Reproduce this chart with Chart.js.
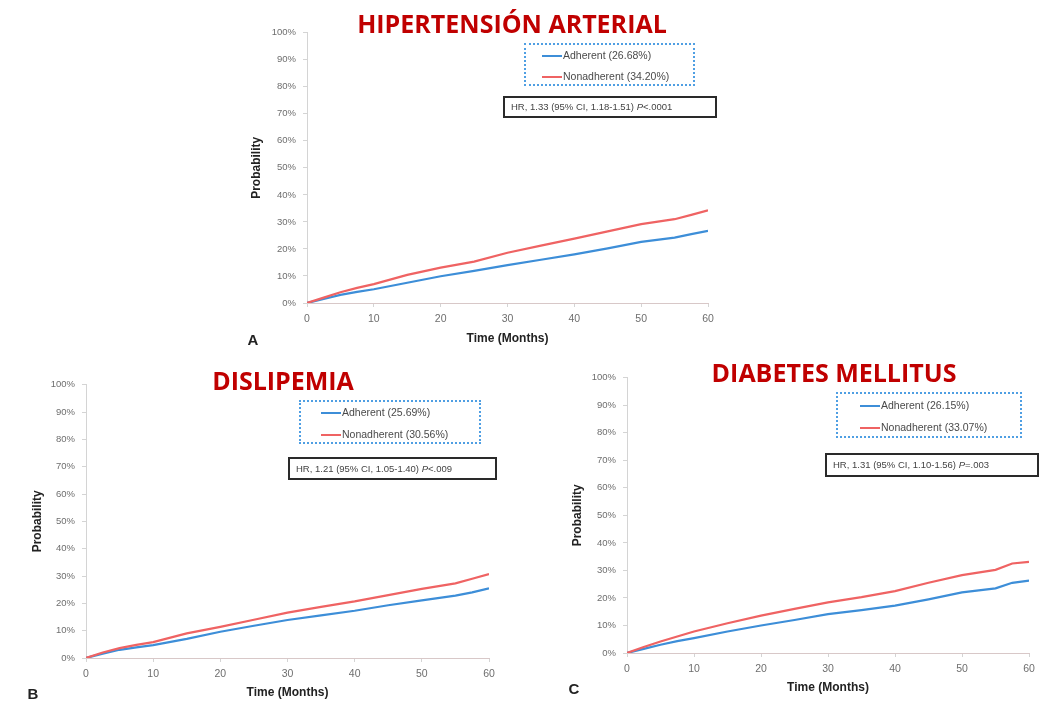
<!DOCTYPE html>
<html>
<head>
<meta charset="utf-8">
<script src="https://cdn.jsdelivr.net/npm/chart.js@4/dist/chart.umd.min.js"></script>
<style>
  body { margin: 0; background: #fff; width: 1043px; height: 701px; overflow: hidden; position: relative; font-family: "Liberation Sans", Arial, sans-serif; }
  canvas { position: absolute; }
  .title { position: absolute; color: #c00000; font-family: "Open Sans", sans-serif; font-weight: bold; font-size: 25px; white-space: nowrap; transform: translate(-50%, -50%); }
  .legend { position: absolute; border: 2px dotted #4f9fe3; box-sizing: border-box; font-size: 10.5px; color: #4a4a4a; }
  .legend div { position: absolute; left: 16px; white-space: nowrap; line-height: 12px; }
  .legend span { display: inline-block; width: 20px; height: 2px; vertical-align: middle; margin-right: 1px; }
  .hr { position: absolute; border: 2px solid #2a2a2a; box-sizing: border-box; font-size: 9.5px; color: #444; padding-left: 6px; white-space: nowrap; }
  .letter { position: absolute; font-weight: bold; font-size: 15px; color: #222; transform: translate(-50%, -50%); }
</style>
</head>
<body>
<canvas id="chartA" width="480" height="335" style="left:240px;top:20px;width:480px;height:335px"></canvas>
<canvas id="chartB" width="490" height="335" style="left:20px;top:372px;width:490px;height:335px"></canvas>
<canvas id="chartC" width="483" height="340" style="left:560px;top:365px;width:483px;height:340px"></canvas>

<div class="title" style="left:512px;top:23px">HIPERTENSIÓN ARTERIAL</div>
<div class="title" style="left:283px;top:380px">DISLIPEMIA</div>
<div class="title" style="left:834px;top:372px">DIABETES MELLITUS</div>

<div class="legend" style="left:524px;top:43px;width:171px;height:43px">
  <div style="top:4px"><span style="background:#3d8ed8"></span>Adherent (26.68%)</div>
  <div style="top:25px"><span style="background:#ef6363"></span>Nonadherent (34.20%)</div>
</div>
<div class="legend" style="left:299px;top:400px;width:182px;height:44px">
  <div style="top:4px;left:20px"><span style="background:#3d8ed8"></span>Adherent (25.69%)</div>
  <div style="top:26px;left:20px"><span style="background:#ef6363"></span>Nonadherent (30.56%)</div>
</div>
<div class="legend" style="left:836px;top:392px;width:186px;height:46px">
  <div style="top:5px;left:22px"><span style="background:#3d8ed8"></span>Adherent (26.15%)</div>
  <div style="top:27px;left:22px"><span style="background:#ef6363"></span>Nonadherent (33.07%)</div>
</div>

<div class="hr" style="left:503px;top:96px;width:214px;height:22px;line-height:18px">HR, 1.33 (95% CI, 1.18-1.51) <i>P</i>&lt;.0001</div>
<div class="hr" style="left:288px;top:457px;width:209px;height:23px;line-height:19px">HR, 1.21 (95% CI, 1.05-1.40) <i>P</i>&lt;.009</div>
<div class="hr" style="left:825px;top:453px;width:214px;height:24px;line-height:20px">HR, 1.31 (95% CI, 1.10-1.56) <i>P</i>=.003</div>

<div class="letter" style="left:253px;top:339px">A</div>
<div class="letter" style="left:33px;top:693px">B</div>
<div class="letter" style="left:574px;top:688px">C</div>

<script>
// months
const months = [0, 2.5, 5, 7.5, 10, 15, 20, 25, 30, 35, 40, 45, 50, 55, 57.5, 60];
const xTicks = [0, 10, 20, 30, 40, 50, 60];

// cumulative probability (%)
const htaAdherent    = [0, 1.5, 3.0, 4.1, 5.1, 7.5, 9.9, 11.9, 14.0, 16.0, 18.0, 20.2, 22.6, 24.2, 25.5, 26.7];
const htaNonadherent = [0, 2.0, 4.0, 5.6, 7.0, 10.4, 13.1, 15.3, 18.6, 21.2, 23.8, 26.5, 29.2, 31.0, 32.6, 34.3];
const dlpAdherent    = [0, 1.6, 3.0, 3.9, 4.7, 7.0, 9.6, 11.8, 13.9, 15.6, 17.3, 19.3, 21.1, 22.8, 24.0, 25.5];
const dlpNonadherent = [0, 2.0, 3.6, 4.8, 5.8, 9.0, 11.4, 14.0, 16.6, 18.7, 20.7, 23.0, 25.3, 27.3, 29.0, 30.7];
const dmAdherent     = [0, 1.5, 3.0, 4.3, 5.4, 7.8, 10.0, 12.0, 14.1, 15.6, 17.2, 19.5, 22.0, 23.5, 25.5, 26.3];
const dmNonadherent  = [0, 2.2, 4.2, 6.0, 7.8, 10.8, 13.6, 16.0, 18.4, 20.3, 22.5, 25.5, 28.3, 30.2, 32.5, 33.1];

const blue = "#3d8ed8";
const red = "#ef6363";

function toPoints(vals) {
  return months.map((m, i) => ({ x: m, y: vals[i] }));
}

function makeChart(id, adherent, nonadherent, box) {
  const ctx = document.getElementById(id).getContext("2d");
  return new Chart(ctx, {
    type: "line",
    data: {
      datasets: [
        { label: "Nonadherent", data: toPoints(nonadherent), borderColor: red, borderWidth: 2.2, pointRadius: 0, tension: 0 },
        { label: "Adherent", data: toPoints(adherent), borderColor: blue, borderWidth: 2.2, pointRadius: 0, tension: 0 },
      ],
    },
    options: {
      responsive: false,
      animation: false,
      layout: { padding: { top: box.top, right: box.right, left: 0, bottom: 0 } },
      plugins: { legend: { display: false }, tooltip: { enabled: false } },
      scales: {
        x: {
          type: "linear",
          min: 0,
          max: 60,
          afterBuildTicks: (s) => { s.ticks = xTicks.map((v) => ({ value: v })); },
          afterFit: (s) => { s.height = box.xh; },
          grid: { display: true, drawOnChartArea: false, tickLength: 4, color: "#d4d4d4" },
          border: { color: "#d8c8c8" },
          ticks: { color: "#6e6e6e", font: { family: "Liberation Sans", size: 10.5 }, padding: 6, maxRotation: 0 },
          title: { display: true, text: "Time (Months)", color: "#222", font: { family: "Liberation Sans", size: 12, weight: "bold" }, padding: { top: 0, bottom: box.xpad } },
        },
        y: {
          min: 0,
          max: 100,
          afterFit: (s) => { s.width = box.yw; },
          grid: { display: true, drawOnChartArea: false, tickLength: 4, color: "#d4d4d4" },
          border: { color: "#d4d4d4" },
          ticks: { stepSize: 10, color: "#6e6e6e", font: { family: "Liberation Sans", size: 9.5 }, padding: 7, callback: (v) => v + "%" },
          title: { display: true, text: "Probability", color: "#222", font: { family: "Liberation Sans", size: 12, weight: "bold" }, padding: { top: box.ypad, bottom: 0 } },
        },
      },
    },
  });
}

makeChart("chartA", htaAdherent, htaNonadherent, { top: 8, right: 12, xh: 52, xpad: 9, yw: 67, ypad: 9 });
makeChart("chartB", dlpAdherent, dlpNonadherent, { top: 10, right: 21, xh: 49, xpad: 7, yw: 66, ypad: 10 });
makeChart("chartC", dmAdherent, dmNonadherent, { top: 10, right: 14, xh: 52, xpad: 10, yw: 67, ypad: 10 });
</script>
</body>
</html>
